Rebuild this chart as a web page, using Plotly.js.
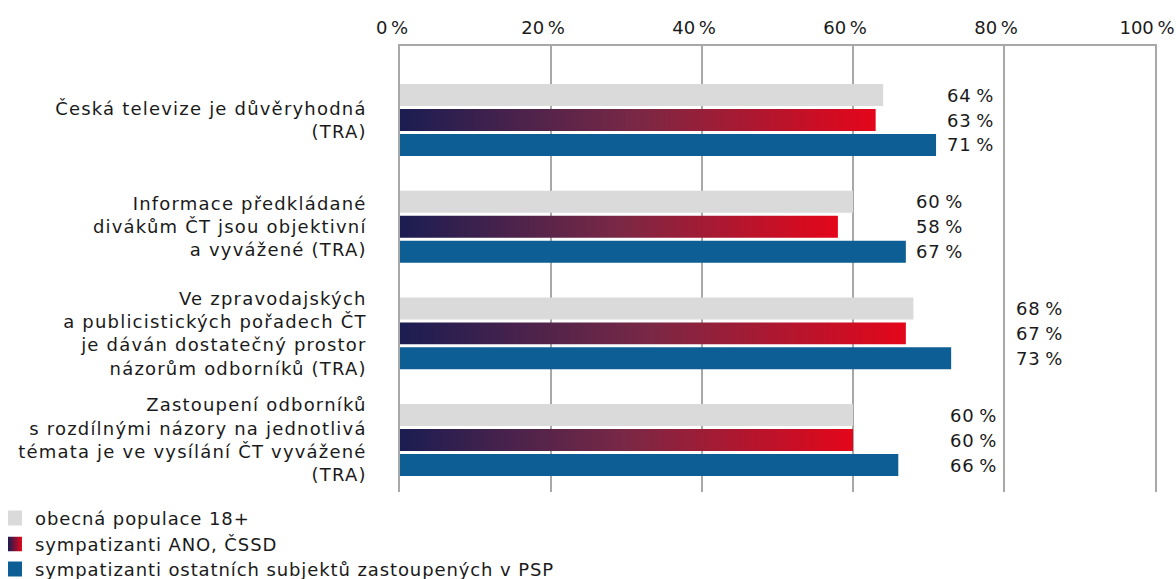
<!DOCTYPE html>
<html>
<head>
<meta charset="utf-8">
<script src="https://cdn.plot.ly/plotly-3.0.1.min.js"></script>
<style>
html,body{margin:0;padding:0;background:#fff;}
#chart{width:1176px;height:579px;}
svg text{letter-spacing:0.9px;}
#chart .ytick text{letter-spacing:1.2px;}
#chart .xtick text{letter-spacing:0px;}
</style>
</head>
<body>
<div id="chart"></div>
<script>
// ---- data ----
const categories = [
  "Česká televize je důvěryhodná<br>(TRA)",
  "Informace předkládané<br>divákům ČT jsou objektivní<br>a vyvážené (TRA)",
  "Ve zpravodajských<br>a publicistických pořadech ČT<br>je dáván dostatečný prostor<br>názorům odborníků (TRA)",
  "Zastoupení odborníků<br>s rozdílnými názory na jednotlivá<br>témata je ve vysílání ČT vyvážené<br>(TRA)"
];
const seriesNames = ["obecná populace 18+", "sympatizanti ANO, ČSSD", "sympatizanti ostatních subjektů zastoupených v PSP"];
const generalPop = [64, 60, 68, 60];
const anoCssd = [63, 58, 67, 60];
const otherParties = [71, 67, 73, 66];
const xTickVals = [0, 20, 40, 60, 80, 100];

// ---- styling / layout helpers ----
const FONT = "'DejaVu Sans', 'Noto Sans', sans-serif";
const TXT = "#1a1a1a";
const GRAY = "#dadada", BLUE = "#0c5e95", NAVY = "#1b1d52", RED = "#e4061a";
const LINE = "#a8a8a8";
const pitch = 0.234, bw = 0.206;
const labelX = [72.2, 68.1, 81.3, 72.6]; // label column per category
const pos = categories.map((_, i) => i);

const W = 1176, H = 579, ML = 400, MR = 21, MT = 46, MB = 87;
const PW = W - ML - MR, PH = H - MT - MB;
const px2x = p => (p - ML) / PW;
const px2y = p => (H - MB - p) / PH;

const traces = [];
traces.push({
  type: "bar", orientation: "h", name: seriesNames[0], showlegend: false,
  x: generalPop, y: pos, width: bw, offset: -pitch - bw / 2,
  marker: {color: GRAY}, hoverinfo: "x+name"
});
anoCssd.forEach((v, i) => {
  const y0 = pos[i] - bw / 2, y1 = pos[i] + bw / 2;
  traces.push({
    type: "scatter", mode: "none", name: seriesNames[1], showlegend: false,
    x: [0, v, v, 0, 0], y: [y0, y0, y1, y1, y0],
    fill: "toself",
    fillgradient: {type: "horizontal", start: 0, stop: v,
      colorscale: [[0, NAVY], [0.5, "#7a2845"], [1, RED]]},
    fillcolor: RED, hoveron: "fills", hoverinfo: "name"
  });
});
traces.push({
  type: "bar", orientation: "h", name: seriesNames[2], showlegend: false,
  x: otherParties, y: pos, width: bw, offset: pitch - bw / 2,
  marker: {color: BLUE}, hoverinfo: "x+name"
});

const annotations = [];
[generalPop, anoCssd, otherParties].forEach((arr, s) => {
  arr.forEach((v, i) => {
    annotations.push({
      x: labelX[i], y: pos[i] + (s - 1) * pitch, xref: "x", yref: "y",
      text: v + "\u2009%", showarrow: false, xanchor: "left", yanchor: "middle",
      font: {family: FONT, size: 18, color: TXT}
    });
  });
});

// ---- custom legend (swatch + text) ----
const legendRowsY = [518, 544, 569];
const shapes = [];
const images = [];
seriesNames.forEach((name, k) => {
  const cy = legendRowsY[k];
  annotations.push({
    xref: "paper", yref: "paper", x: px2x(33), y: px2y(cy),
    xanchor: "left", yanchor: "middle", showarrow: false, text: name,
    font: {family: FONT, size: 18, color: TXT}
  });
  if (k === 1) {
    const svg = "<svg xmlns='http://www.w3.org/2000/svg' width='14' height='15'>" +
      "<defs><linearGradient id='g' x1='0' x2='1' y1='0' y2='0'>" +
      "<stop offset='0' stop-color='" + NAVY + "'/><stop offset='1' stop-color='" + RED + "'/>" +
      "</linearGradient></defs><rect width='14' height='15' fill='url(#g)'/></svg>";
    images.push({
      source: "data:image/svg+xml;charset=utf-8," + encodeURIComponent(svg),
      xref: "paper", yref: "paper", x: px2x(8), y: px2y(cy - 7.5),
      sizex: 14 / PW, sizey: 15 / PH, xanchor: "left", yanchor: "top",
      sizing: "stretch", layer: "above"
    });
  } else {
    shapes.push({
      type: "rect", xref: "paper", yref: "paper",
      x0: px2x(8), x1: px2x(22), y0: px2y(cy - 7.5), y1: px2y(cy + 7.5),
      fillcolor: k === 0 ? GRAY : BLUE, line: {width: 0}
    });
  }
});

const layout = {
  width: W, height: H,
  margin: {l: ML, r: MR, t: MT, b: MB, autoexpand: false},
  paper_bgcolor: "#fff", plot_bgcolor: "#fff",
  barmode: "overlay",
  showlegend: false,
  xaxis: {
    side: "top", range: [0, 100], tickvals: xTickVals,
    ticktext: xTickVals.map(v => v + "\u2009%"),
    showgrid: true, gridcolor: LINE, gridwidth: 1.5,
    zeroline: false, showline: true, linecolor: LINE, linewidth: 1.5,
    ticks: "", ticklabelstandoff: 3, ticklabelshift: -8, ticklabeloverflow: "allow",
    automargin: false,
    tickfont: {family: FONT, size: 18, color: TXT}, fixedrange: true
  },
  yaxis: {
    range: [3.487, -0.694], tickvals: pos, ticktext: categories,
    showgrid: false, zeroline: false,
    showline: true, mirror: true, linecolor: LINE, linewidth: 1.5, ticks: "",
    ticklabelstandoff: 28, automargin: false,
    tickfont: {family: FONT, size: 18, color: TXT}, fixedrange: true
  },
  annotations: annotations,
  shapes: shapes,
  images: images
};

Plotly.newPlot("chart", traces, layout, {displayModeBar: false});
</script>
</body>
</html>
